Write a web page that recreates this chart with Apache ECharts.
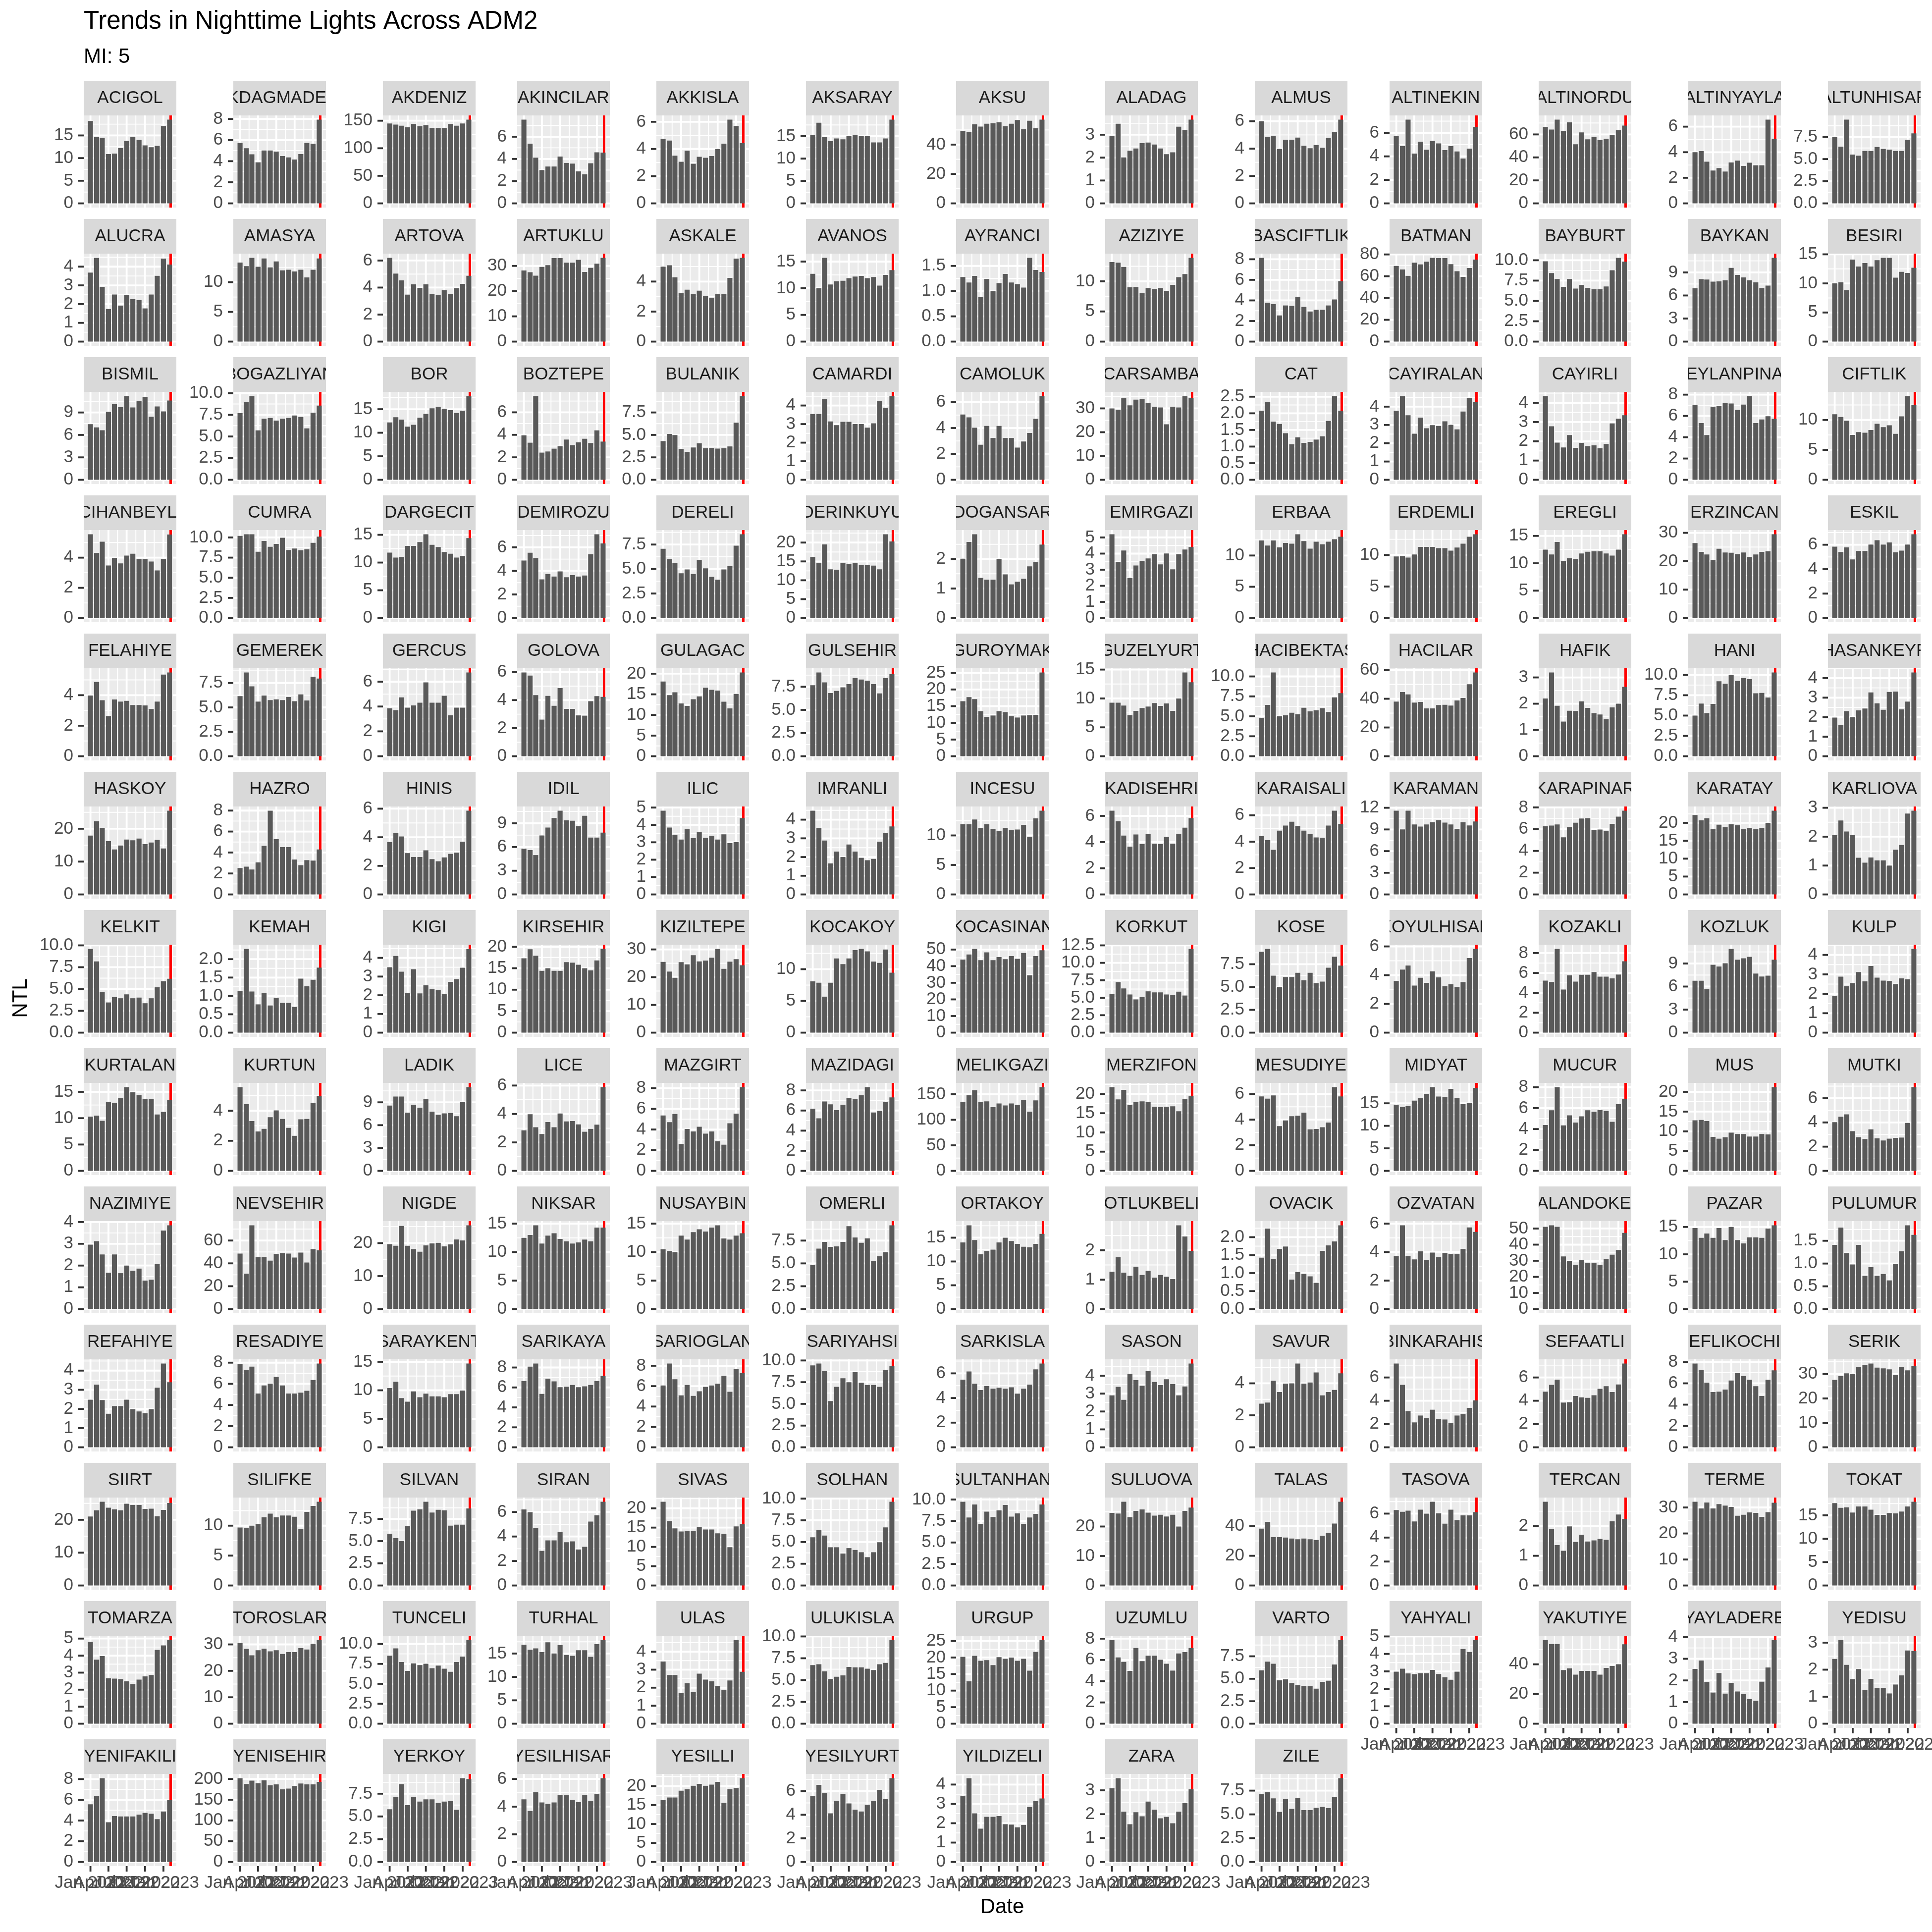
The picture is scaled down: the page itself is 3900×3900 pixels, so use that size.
<!DOCTYPE html>
<html><head><meta charset="utf-8">
<script src="https://cdn.jsdelivr.net/npm/echarts@6/dist/echarts.min.js"></script>
<style>html,body{margin:0;padding:0;background:#ffffff;overflow:hidden;} #chart{width:3900px;height:3900px;}</style>
</head><body><div id="chart"></div>
<script>
// ---------------- DATA ----------------
const chartTitle = 'Trends in Nighttime Lights Across ADM2';
const chartSubtitle = 'MI: 5';
const xAxisTitle = 'Date';
const yAxisTitle = 'NTL';

const months = ['2022-01','2022-02','2022-03','2022-04','2022-05','2022-06','2022-07',
                '2022-08','2022-09','2022-10','2022-11','2022-12','2023-01','2023-02'];
const xTickMonths = ['2022-01','2022-04','2022-07','2022-10','2023-01'];
const xTickLabels = ['Jan 2022','Apr 2022','Jul 2022','Oct 2022','Jan 2023'];
const eventDate = '2023-02-06';

const districts = [
 'ACIGOL','AKDAGMADENI','AKDENIZ','AKINCILAR','AKKISLA','AKSARAY','AKSU','ALADAG','ALMUS','ALTINEKIN','ALTINORDU','ALTINYAYLA','ALTUNHISAR',
 'ALUCRA','AMASYA','ARTOVA','ARTUKLU','ASKALE','AVANOS','AYRANCI','AZIZIYE','BASCIFTLIK','BATMAN','BAYBURT','BAYKAN','BESIRI',
 'BISMIL','BOGAZLIYAN','BOR','BOZTEPE','BULANIK','CAMARDI','CAMOLUK','CARSAMBA','CAT','CAYIRALAN','CAYIRLI','CEYLANPINAR','CIFTLIK',
 'CIHANBEYLI','CUMRA','DARGECIT','DEMIROZU','DERELI','DERINKUYU','DOGANSAR','EMIRGAZI','ERBAA','ERDEMLI','EREGLI','ERZINCAN','ESKIL',
 'FELAHIYE','GEMEREK','GERCUS','GOLOVA','GULAGAC','GULSEHIR','GUROYMAK','GUZELYURT','HACIBEKTAS','HACILAR','HAFIK','HANI','HASANKEYF',
 'HASKOY','HAZRO','HINIS','IDIL','ILIC','IMRANLI','INCESU','KADISEHRI','KARAISALI','KARAMAN','KARAPINAR','KARATAY','KARLIOVA',
 'KELKIT','KEMAH','KIGI','KIRSEHIR','KIZILTEPE','KOCAKOY','KOCASINAN','KORKUT','KOSE','KOYULHISAR','KOZAKLI','KOZLUK','KULP',
 'KURTALAN','KURTUN','LADIK','LICE','MAZGIRT','MAZIDAGI','MELIKGAZI','MERZIFON','MESUDIYE','MIDYAT','MUCUR','MUS','MUTKI',
 'NAZIMIYE','NEVSEHIR','NIGDE','NIKSAR','NUSAYBIN','OMERLI','ORTAKOY','OTLUKBELI','OVACIK','OZVATAN','PALANDOKEN','PAZAR','PULUMUR',
 'REFAHIYE','RESADIYE','SARAYKENT','SARIKAYA','SARIOGLAN','SARIYAHSI','SARKISLA','SASON','SAVUR','SEBINKARAHISAR','SEFAATLI','SEREFLIKOCHISAR','SERIK',
 'SIIRT','SILIFKE','SILVAN','SIRAN','SIVAS','SOLHAN','SULTANHANI','SULUOVA','TALAS','TASOVA','TERCAN','TERME','TOKAT',
 'TOMARZA','TOROSLAR','TUNCELI','TURHAL','ULAS','ULUKISLA','URGUP','UZUMLU','VARTO','YAHYALI','YAKUTIYE','YAYLADERE','YEDISU',
 'YENIFAKILI','YENISEHIR','YERKOY','YESILHISAR','YESILLI','YESILYURT','YILDIZELI','ZARA','ZILE'
];

// monthly NTL values (Jan 2022 .. Feb 2023), one list per district, same order as districts
const ntl = [
 [18.2,14.6,14.5,10.9,11.0,12.2,13.8,14.7,14.0,12.8,12.4,12.7,17.1,18.5],
 [5.73,5.23,4.65,3.89,5.02,5.02,4.91,4.49,4.36,4.16,4.68,5.73,5.65,7.94],
 [145,143,141,138,144,140,142,137,137,137,144,141,145,152],
 [7.54,5.37,4.12,3.0,3.32,3.32,4.22,3.64,3.58,2.88,2.62,3.61,4.6,4.57],
 [4.75,4.62,3.51,3.06,3.87,2.91,3.43,3.35,3.48,4.0,4.39,6.16,5.69,4.44],
 [15.2,18.0,14.8,13.9,14.5,14.3,15.0,15.3,15.0,15.0,13.6,13.6,14.5,18.7],
 [49.4,48.7,53.8,52.3,54.2,54.5,55.2,52.5,54.2,56.7,50.4,56.2,51.1,57.0],
 [2.95,3.48,2.01,2.3,2.4,2.63,2.66,2.57,2.4,2.15,2.23,3.35,3.21,3.66],
 [6.0,4.86,4.94,3.98,4.65,4.65,4.81,4.21,4.03,4.26,4.06,4.78,5.22,6.12],
 [5.75,4.87,7.13,4.24,5.25,4.57,5.31,5.1,4.54,4.87,4.42,3.82,4.66,6.51],
 [66.5,64.3,72.9,63.1,70.5,51.4,61.8,55.7,57.8,55.1,56.3,59.7,63.7,67.7],
 [4.0,4.09,3.26,2.57,2.76,2.49,3.2,3.34,2.93,3.18,2.98,2.98,6.55,5.06],
 [7.49,6.4,9.45,5.51,5.38,5.91,5.91,6.36,6.15,6.07,5.91,5.91,7.17,7.89],

 [3.68,4.47,2.92,1.74,2.51,1.92,2.49,2.26,2.21,1.77,2.51,3.51,4.43,4.11],
 [13.3,12.7,14.1,12.6,14.0,12.5,13.5,12.0,12.1,11.8,12.1,10.8,12.1,14.0],
 [6.2,5.03,4.53,3.48,4.24,3.98,4.24,3.51,3.43,3.8,3.53,3.95,4.27,4.87],
 [28.2,27.5,26.1,29.6,30.3,33.1,33.1,31.3,31.3,32.4,27.6,29.2,30.9,33.2],
 [4.99,5.08,4.28,3.22,3.46,3.15,3.39,3.04,2.92,3.15,3.15,4.24,5.53,5.58],
 [12.7,10.0,15.7,10.7,11.3,11.4,11.9,12.2,12.3,11.9,12.1,10.5,12.5,13.4],
 [1.28,1.17,1.3,0.88,1.24,1.0,1.16,1.34,1.17,1.14,1.07,1.66,1.42,1.38],
 [13.2,13.1,12.4,9.0,9.06,8.01,8.89,8.71,8.89,8.42,9.42,10.7,11.2,13.9],
 [8.14,3.78,3.64,2.54,3.51,3.47,4.36,3.37,2.92,3.09,3.09,3.51,4.09,5.88],
 [69.5,66.2,60.4,72.4,70.8,73.4,76.9,76.6,76.6,71.1,64.6,59.4,67.5,75.3],
 [9.87,8.43,7.7,6.74,7.7,6.52,6.96,6.61,6.43,6.43,6.78,8.78,10.3,9.83],
 [6.93,8.12,8.07,7.8,7.84,7.98,9.59,8.67,8.35,7.98,7.71,6.97,7.29,10.9],
 [10.0,10.2,8.84,14.1,12.9,13.5,12.9,14.0,14.4,14.4,11.0,12.0,11.8,12.7],

 [7.43,7.0,6.62,9.1,10.1,9.71,11.2,9.67,10.5,11.1,8.43,9.81,9.14,10.6],
 [7.7,8.98,9.67,5.7,7.05,7.13,6.84,7.05,7.13,7.42,7.25,5.94,7.75,8.57],
 [12.2,13.3,12.8,11.3,11.7,13.2,14.0,15.2,15.5,15.1,14.8,14.2,14.7,17.8],
 [3.96,3.3,7.45,2.42,2.52,2.77,2.99,3.58,3.08,3.33,3.65,3.27,4.4,3.4],
 [4.31,5.1,4.98,3.44,3.12,3.6,4.07,3.52,3.56,3.48,3.52,3.72,6.36,9.33],
 [3.54,3.54,4.34,3.14,2.94,3.12,3.12,3.0,3.0,2.81,3.04,4.23,3.88,4.51],
 [5.04,4.82,4.03,2.71,4.16,3.23,4.16,3.23,3.23,2.49,2.96,3.62,4.71,6.47],
 [30.0,29.4,34.3,31.3,33.7,33.9,32.2,30.7,30.4,23.3,30.7,30.4,35.2,34.3],
 [2.08,2.34,1.75,1.68,1.4,1.07,1.28,1.11,1.14,1.21,1.31,1.77,2.52,2.08],
 [3.77,4.58,3.53,2.52,3.4,2.82,2.99,2.95,3.2,3.01,2.76,3.73,4.47,4.27],
 [4.35,2.78,1.93,1.68,2.32,1.66,1.92,1.75,1.79,1.64,1.86,2.93,3.17,3.35],
 [7.03,5.33,4.2,6.87,6.93,7.2,7.17,6.57,7.07,7.87,5.33,5.67,5.97,5.73],
 [10.95,10.5,9.88,7.5,7.98,7.86,8.33,9.35,8.81,9.11,7.68,10.6,14.0,12.5],

 [5.55,4.31,5.06,3.48,3.98,3.62,4.14,4.26,3.91,3.91,3.74,3.15,3.91,5.53],
 [10.2,10.4,10.4,8.23,9.56,8.85,9.2,9.96,8.45,8.63,8.41,8.54,9.34,10.1],
 [11.8,10.9,11.0,13.0,13.0,13.7,15.1,13.2,12.8,11.9,11.6,10.9,11.2,14.4],
 [4.88,5.54,5.09,3.28,3.73,3.52,3.95,3.46,3.64,3.52,3.61,5.42,7.11,6.33],
 [7.07,6.01,5.62,4.57,4.96,4.49,5.94,5.07,4.2,3.91,4.96,5.29,7.39,8.55],
 [16.2,14.6,19.5,12.9,12.8,14.5,14.3,14.6,14.0,14.0,13.9,12.9,22.2,20.3],
 [2.01,2.58,2.84,1.36,1.3,1.3,2.0,1.48,1.14,1.23,1.33,1.75,1.9,2.49],
 [5.2,3.48,4.19,2.49,3.26,3.55,3.7,3.96,3.33,4.01,3.02,3.96,4.25,4.41],
 [12.4,11.6,12.4,11.3,12.0,11.9,13.4,12.3,11.1,12.2,11.8,12.2,12.6,13.0],
 [9.77,9.83,9.6,10.1,11.3,11.3,11.3,11.1,11.1,10.7,11.2,11.8,12.9,13.3],
 [12.5,11.6,13.9,10.4,10.9,10.8,11.8,12.1,12.2,12.2,11.8,11.4,12.5,15.3],
 [26.4,23.3,22.4,20.5,24.4,23.1,23.0,22.5,23.1,21.5,22.4,23.3,23.5,29.5],
 [5.84,5.41,5.78,4.8,5.49,5.49,6.02,6.37,6.02,6.19,5.38,5.52,6.02,6.86],

 [3.98,4.86,3.67,2.63,3.72,3.58,3.63,3.35,3.35,3.33,3.09,3.58,5.35,5.49],
 [6.15,8.58,7.16,5.6,6.22,5.75,5.82,5.75,6.07,5.64,6.33,5.71,8.15,7.96],
 [3.86,3.71,4.74,3.91,4.09,4.31,5.94,4.31,4.31,4.86,3.29,3.91,3.91,6.74],
 [5.97,5.75,4.35,2.61,4.3,3.59,4.86,3.37,3.37,2.91,2.89,3.92,4.28,4.23],
 [18.1,14.8,15.5,12.8,12.2,13.8,14.5,16.6,16.1,15.9,13.2,11.6,15.1,20.3],
 [7.66,9.04,7.97,6.82,7.05,7.43,7.78,8.43,8.28,8.16,7.78,6.78,8.43,8.85],
 [16.5,17.7,17.1,13.5,11.8,12.2,13.5,13.2,12.0,11.6,12.2,12.3,12.4,25.1],
 [9.26,9.26,8.77,7.12,7.85,8.34,8.59,9.2,8.71,9.14,7.85,10.0,14.5,12.8],
 [4.82,6.43,10.5,5.0,5.13,5.45,5.27,6.07,5.63,5.76,6.03,5.54,7.37,7.9],
 [38.0,44.7,43.0,37.3,37.8,33.3,33.3,35.6,35.8,35.3,38.8,40.5,50.1,58.3],
 [2.2,3.19,1.92,1.32,1.73,1.72,2.09,1.84,1.64,1.59,1.41,1.86,2.0,2.64],
 [5.0,6.48,5.3,6.43,9.22,8.91,10.0,9.26,9.61,9.48,7.74,7.78,7.22,10.3],
 [1.98,1.6,2.31,2.0,2.35,2.44,3.27,2.71,2.38,3.29,3.31,2.4,2.8,4.29],

 [17.9,22.3,20.3,16.2,13.7,14.9,16.7,16.5,17.0,15.3,15.8,16.6,14.0,25.5],
 [2.52,2.65,2.38,3.06,4.63,7.99,5.27,4.52,4.52,3.33,2.79,3.27,3.23,4.29],
 [3.67,4.29,4.06,2.89,2.62,2.62,3.09,2.47,2.32,2.59,2.84,2.92,3.69,5.86],
 [5.79,5.61,4.98,7.47,8.46,9.68,10.6,9.37,9.32,8.64,9.95,7.19,7.19,7.83],
 [4.82,3.85,3.42,3.16,3.75,3.24,3.61,3.26,3.38,3.16,3.46,2.95,3.01,4.39],
 [4.48,3.56,2.88,1.66,2.29,2.0,2.67,2.29,1.96,1.83,1.9,2.82,3.28,3.64],
 [11.9,11.9,12.7,11.3,11.9,11.1,10.8,11.3,10.9,11.0,11.8,9.76,12.9,14.2],
 [6.4,5.59,4.5,3.65,4.58,3.84,4.6,3.87,3.84,4.39,3.87,4.63,5.1,5.83],
 [4.41,4.11,3.38,4.84,5.22,5.51,5.19,4.84,4.57,4.32,4.3,5.22,6.35,5.35],
 [11.6,9.01,11.6,9.7,9.41,9.7,10.0,10.3,9.95,9.7,9.06,10.0,9.56,10.1],
 [6.26,6.33,6.43,5.25,6.2,6.59,6.98,7.02,5.93,5.97,5.84,6.49,7.15,7.7],
 [22.2,20.7,21.3,18.2,19.5,18.8,19.6,19.3,18.2,18.6,18.2,18.6,20.0,23.4],
 [2.05,2.56,2.18,2.05,1.27,1.1,1.28,1.18,1.18,1.0,1.55,1.71,2.8,2.9],

 [9.6,8.17,4.67,3.46,4.07,3.94,4.39,3.94,4.02,3.37,3.94,5.2,5.89,6.18],
 [1.14,2.28,1.12,0.77,1.08,0.74,0.95,0.81,0.81,0.7,1.47,1.26,1.44,1.77],
 [3.5,4.1,3.26,2.13,3.39,2.1,2.53,2.32,2.27,2.08,2.72,2.86,3.47,4.48],
 [17.3,19.4,17.9,14.4,15.0,14.4,14.4,16.4,16.3,15.8,15.0,14.5,16.8,19.5],
 [25.5,22.0,19.8,25.4,24.6,27.9,25.7,26.0,27.0,30.2,23.0,25.6,26.5,24.3],
 [8.09,7.87,5.67,7.87,11.7,10.8,11.7,13.0,13.2,12.8,11.2,11.0,13.1,9.44],
 [44.0,47.0,50.4,43.6,48.3,43.6,45.5,44.2,46.1,44.4,47.9,34.5,46.1,49.6],
 [5.52,7.24,6.33,5.47,4.76,5.11,5.92,5.77,5.77,5.47,5.37,5.87,5.32,12.0],
 [8.87,9.18,6.25,5.0,6.09,6.09,6.56,5.74,6.56,5.43,5.59,7.11,8.32,7.34],
 [3.6,4.39,4.67,3.28,3.82,3.47,4.27,3.85,3.23,3.37,3.18,3.52,5.19,5.83],
 [5.23,5.09,8.42,4.34,5.77,5.13,5.81,5.81,6.09,5.63,5.63,5.45,5.84,7.17],
 [6.76,6.76,5.65,8.84,8.61,9.03,10.9,9.49,9.68,9.86,7.69,7.31,7.41,9.49],
 [1.89,2.88,2.39,2.55,3.12,2.64,3.43,2.83,2.68,2.66,2.5,2.79,2.75,4.31],

 [10.3,10.5,9.5,13.1,12.9,13.8,15.9,14.9,14.4,13.6,13.6,10.7,11.2,13.4],
 [5.57,4.43,3.31,2.62,2.79,3.57,4.02,3.45,2.86,2.33,3.43,3.45,4.52,4.98],
 [8.58,9.76,9.76,7.64,8.68,8.3,9.43,7.78,7.36,7.55,7.59,7.17,9.01,11.0],
 [2.85,3.98,3.07,2.59,3.43,3.07,4.03,3.48,3.5,3.27,2.75,2.95,3.25,5.89],
 [5.36,4.71,5.5,2.6,4.05,3.81,4.26,3.6,3.81,2.87,2.53,4.6,5.54,8.1],
 [6.19,5.23,6.9,6.62,6.05,6.58,7.26,7.15,7.51,8.33,5.8,5.98,6.83,7.3],
 [135,148,158,135,136,125,132,128,132,129,139,116,138,164],
 [21.8,18.6,21.1,17.1,17.9,18.1,17.9,16.7,16.6,16.7,16.8,15.5,18.7,19.4],
 [5.81,5.64,5.89,3.49,3.94,4.27,4.3,4.55,3.24,3.27,3.41,3.77,6.54,5.81],
 [14.7,14.2,14.4,15.6,16.2,17.1,18.6,16.5,16.4,18.2,16.2,14.8,15.1,18.4],
 [4.38,5.79,8.01,4.35,5.31,4.62,5.21,5.79,5.65,5.82,5.72,4.69,6.37,6.85],
 [12.8,12.9,12.6,8.6,8.14,8.51,9.68,9.32,9.32,8.69,8.69,9.32,9.23,21.2],
 [4.02,4.47,4.67,3.28,2.78,2.63,3.43,2.69,2.51,2.66,2.72,2.75,3.96,6.92],

 [2.96,3.12,2.51,1.67,2.51,1.65,2.0,1.76,1.86,1.31,1.35,2.06,3.61,3.85],
 [48.6,31.0,73.3,45.5,45.5,42.4,48.2,49.0,48.6,45.1,49.4,40.8,52.5,51.4],
 [19.7,19.2,25.2,19.2,18.2,17.4,19.3,19.9,20.1,19.0,19.6,21.1,20.8,25.4],
 [12.5,13.0,14.7,11.5,12.9,13.3,12.3,11.9,11.5,11.7,12.2,11.9,14.3,14.3],
 [10.5,10.2,10.0,12.9,12.2,13.5,14.0,13.6,14.3,14.7,12.4,12.2,12.9,13.3],
 [4.8,6.62,7.35,6.81,6.86,7.35,9.07,7.84,7.25,7.75,5.25,5.78,6.23,9.17],
 [14.0,17.6,14.5,11.5,12.2,12.5,14.0,15.0,14.3,13.7,13.1,13.0,13.7,15.8],
 [1.27,1.76,1.24,1.13,1.44,1.16,1.3,1.07,1.16,1.1,1.02,2.85,2.47,1.98],
 [1.43,2.24,1.4,1.67,1.74,0.82,1.03,0.98,0.91,0.73,1.62,1.77,1.88,2.33],
 [3.72,5.88,3.72,3.49,4.05,3.44,3.97,3.64,3.94,3.87,3.87,4.22,5.73,5.42],
 [51.1,52.0,51.1,32.7,30.0,27.5,30.4,28.6,28.8,27.5,31.1,33.8,36.7,47.3],
 [14.8,13.0,13.8,13.0,14.8,12.6,15.0,12.6,12.0,13.1,13.1,13.0,14.7,15.3],
 [1.41,1.79,1.23,0.98,1.41,0.73,0.92,0.73,0.77,0.63,0.99,1.27,1.84,1.63],

 [2.48,3.27,2.46,1.75,2.15,2.15,2.48,1.99,1.87,1.78,1.99,3.11,4.37,3.39],
 [7.88,7.33,7.63,5.08,5.85,6.02,6.65,5.85,5.08,5.08,5.17,5.34,6.36,7.92],
 [10.4,11.5,8.63,8.0,9.8,8.78,9.41,8.94,8.94,8.78,9.33,9.33,9.96,14.7],
 [6.65,8.09,8.4,5.35,6.88,6.61,6.02,6.07,6.25,6.02,6.11,6.25,6.65,7.15],
 [6.07,8.22,6.68,5.1,6.11,5.05,5.49,5.93,6.07,6.24,7.03,5.45,7.69,7.3],
 [9.44,9.65,8.77,5.33,6.97,7.95,7.49,8.67,7.44,7.18,7.18,6.97,8.92,9.33],
 [5.49,6.15,5.16,4.65,4.98,4.76,4.84,4.76,4.87,4.36,4.76,5.09,6.33,6.8],
 [2.9,3.38,2.65,4.1,3.75,3.43,4.25,3.65,3.48,3.8,3.53,2.9,3.4,4.68],
 [2.73,2.8,4.16,3.46,3.98,4.0,5.24,3.98,4.05,4.68,3.25,3.46,3.59,4.63],
 [7.2,5.37,3.11,2.14,2.73,2.52,3.23,2.42,2.39,2.11,2.73,2.86,3.39,4.04],
 [4.78,5.37,5.81,3.85,3.88,4.41,4.29,4.25,4.47,5.03,5.25,4.75,5.4,7.2],
 [7.86,7.25,6.07,5.19,5.22,5.42,6.27,6.98,6.68,6.34,5.73,4.81,6.34,7.22],
 [27.6,29.1,30.3,30.1,32.9,33.8,34.3,32.6,32.3,31.9,29.7,32.9,31.5,33.4],

 [21.0,22.9,25.5,23.7,23.2,22.9,24.9,24.5,24.5,23.3,23.4,21.1,23.0,25.1],
 [9.7,9.62,10.0,10.3,11.4,12.0,11.4,11.7,11.7,11.5,9.4,12.3,13.3,14.0],
 [5.84,5.33,5.03,6.7,8.43,8.58,9.44,8.22,8.53,8.48,6.75,6.85,6.85,8.68],
 [6.21,5.99,4.71,2.83,3.68,3.68,4.38,3.53,3.6,2.94,3.16,5.22,5.74,6.84],
 [21.7,16.7,14.8,14.0,14.2,14.2,15.1,14.5,14.5,13.5,13.4,9.92,15.3,15.9],
 [5.54,6.37,5.75,4.4,4.4,3.68,4.3,4.09,3.83,3.26,3.83,4.97,6.68,9.64],
 [9.74,7.91,9.42,7.17,8.59,7.96,8.74,9.37,8.01,8.38,7.17,7.91,8.32,9.42],
 [24.6,24.4,28.4,23.2,25.3,25.8,24.7,23.7,24.0,23.4,24.0,20.0,25.3,26.4],
 [38.3,42.9,32.5,32.5,32.3,31.6,31.1,31.6,31.1,30.6,33.5,35.4,41.7,56.4],
 [6.3,6.15,6.24,5.34,6.33,6.0,6.99,6.03,5.16,6.33,5.46,5.85,5.85,6.12],
 [2.82,1.9,1.36,1.17,1.99,1.47,1.71,1.48,1.52,1.57,1.54,2.16,2.39,2.24],
 [32.2,29.6,31.9,29.6,31.3,30.7,30.2,26.8,27.2,28.1,27.9,26.4,28.2,31.8],
 [17.6,16.6,16.7,15.6,16.9,16.9,16.2,15.1,15.1,15.5,15.4,15.8,16.9,17.9],

 [4.81,3.76,3.97,2.67,2.65,2.62,2.49,2.33,2.59,2.78,2.86,4.34,4.6,4.92],
 [30.5,28.3,25.9,27.8,28.4,27.4,27.8,26.4,27.1,27.1,28.6,28.1,30.3,31.7],
 [8.53,9.44,7.74,6.61,7.57,7.34,7.51,6.95,7.29,6.89,6.5,7.74,8.42,10.5],
 [16.9,15.8,16.1,15.3,17.4,15.0,16.8,14.7,14.5,15.7,15.7,14.3,17.0,17.9],
 [3.45,2.7,2.7,1.7,2.25,1.75,2.78,2.45,2.35,2.1,1.88,2.4,4.65,2.88],
 [6.72,6.82,6.0,5.13,5.38,5.54,6.51,6.46,6.46,6.31,6.15,6.82,6.97,9.6],
 [20.2,12.8,20.5,19.0,19.2,17.7,20.1,19.6,20.0,19.0,19.6,16.0,21.7,25.3],
 [7.88,6.23,5.81,4.96,7.12,5.89,6.4,6.4,6.02,5.64,5.0,6.61,6.74,7.12],
 [5.94,6.91,6.67,4.82,4.94,4.54,4.3,4.22,4.18,3.9,4.66,4.78,6.59,9.32],
 [2.98,3.15,2.88,2.84,2.9,2.9,3.08,2.85,2.66,2.52,2.98,4.28,4.11,4.8],
 [56.4,53.6,53.6,36.1,37.3,33.0,35.5,35.5,35.5,33.0,37.5,38.9,40.0,53.5],
 [2.53,2.92,1.93,1.44,2.34,1.39,1.89,1.49,1.37,1.14,1.06,1.94,2.6,3.87],
 [2.4,3.1,2.18,1.65,2.02,1.24,1.66,1.33,1.33,1.12,1.45,1.79,2.71,2.69],

 [5.57,6.35,8.09,3.83,4.43,4.39,4.39,4.39,4.57,4.74,4.65,4.13,4.87,6.0],
 [202,188,196,190,197,185,187,175,177,183,189,187,187,193],
 [5.79,7.13,8.56,6.24,7.13,6.63,6.88,6.88,6.49,6.63,6.68,5.74,9.21,9.11],
 [4.53,3.68,5.05,4.3,4.2,4.3,4.85,4.82,4.5,4.33,4.85,4.43,4.92,6.06],
 [16.3,17.0,17.0,18.8,19.2,20.1,20.6,20.1,20.4,21.1,15.6,19.2,19.5,22.1],
 [5.61,6.53,5.84,4.12,5.19,5.76,4.96,4.43,4.27,4.85,5.19,6.11,5.31,7.1],
 [3.4,4.33,2.51,1.72,2.33,2.33,2.37,1.95,1.93,1.79,1.91,2.84,3.14,3.28],
 [3.09,3.51,2.11,1.58,2.08,1.91,2.53,2.19,1.83,1.89,1.62,2.11,2.47,3.04],
 [7.13,7.34,6.68,5.26,6.61,5.58,6.7,5.45,5.45,5.7,5.79,5.65,6.85,8.81]
];

// y-axis tick step (tick labels are multiples of it) per district, same order
const yTickSteps = [
 5,2,50,2,2,5,20,1,2,2,20,2,2.5,
 1,5,2,10,2,5,0.5,5,2,20,2.5,3,5,
 3,2.5,5,2,2.5,1,2,10,0.5,1,1,2,5,
 2,2.5,5,2,2.5,5,1,1,5,5,5,10,2,
 2,2.5,2,2,5,2.5,5,5,2.5,20,1,2.5,1,
 10,2,2,3,1,1,5,2,2,3,2,5,1,
 2.5,0.5,1,5,10,5,10,2.5,2.5,2,2,3,1,
 5,2,3,2,2,2,50,5,2,5,2,5,2,
 1,20,10,5,5,2.5,5,1,0.5,2,10,5,0.5,
 1,2,5,2,2,2.5,2,1,2,2,2,2,10,
 10,5,2.5,2,5,2.5,2.5,10,20,2,1,10,5,
 1,10,2.5,5,1,2.5,5,2,2.5,1,20,1,1,
 2,50,2.5,2,5,2,1,1,2.5
];

// ---------------- LAYOUT ----------------
if (ntl.length !== districts.length || yTickSteps.length !== districts.length) throw new Error('length mismatch ' + ntl.length + ' ' + yTickSteps.length);
ntl.forEach((v, i) => { if (v.length !== months.length) throw new Error('bad length at ' + districts[i]); });

const FONT = "'Liberation Sans', Arial, Helvetica, sans-serif";
const NCOL = 13;
const panelLefts = [169, 471, 773, 1044, 1325, 1627, 1930, 2231, 2533, 2805, 3106, 3408, 3690];
const PANEL_W = 187, STRIP_TOP0 = 163, ROW_PITCH = 279, STRIP_H = 70, PANEL_H = 186;
const MAJOR_W = 3.8, MINOR_W = 1.9;
const TICK_LEN = 11, TICK_COLOR = '#333333', LABEL_COLOR = '#4D4D4D', LABEL_SIZE = 35;
const Y_LABEL_GAP = 21, X_LABEL_GAP = 17;

const toTs = s => Date.UTC(+s.slice(0, 4), +s.slice(5, 7) - 1, s.length > 7 ? +s.slice(8, 10) : 1);
const monthTs = months.map(toTs);
let res = Infinity;
for (let i = 1; i < monthTs.length; i++) res = Math.min(res, monthTs[i] - monthTs[i - 1]);
const barSpan = 0.9 * res;
const lo = monthTs[0] - barSpan / 2, hi = monthTs[monthTs.length - 1] + barSpan / 2;
const span = hi - lo;
const xMin = lo - 0.05 * span, xMax = hi + 0.05 * span;
const eventTs = toTs(eventDate);
const barPx = PANEL_W * barSpan / (xMax - xMin);
const xMajor = xTickMonths.map(toTs);
const xMinor = (() => {
  const b = xMajor.slice(); const bd = b[1] - b[0];
  if (xMin < b[0]) b.unshift(b[0] - bd);
  if (xMax > b[b.length - 1]) b.push(b[b.length - 1] + bd);
  const out = [];
  for (let i = 0; i < b.length - 1; i++) { const m = (b[i] + b[i + 1]) / 2; if (m > xMin && m < xMax) out.push(m); }
  return out;
})();
const xMid = (xMin + xMax) / 2;

function decimalsOf(v) { for (let d = 0; d < 6; d++) { if (Math.abs(Math.round(v * Math.pow(10, d)) - v * Math.pow(10, d)) < 1e-6) return d; } return 6; }

const nPanels = districts.length;
const nRows = Math.ceil(nPanels / NCOL);
const grids = [], xAxes = [], yAxes = [], series = [];

districts.forEach((name, k) => {
  const row = Math.floor(k / NCOL), col = k % NCOL;
  const vals = ntl[k];
  const M = Math.max.apply(null, vals);
  const yMin = -0.05 * M, yMax = 1.05 * M;
  const step = yTickSteps[k];
  const majors = [];
  for (let i = 0; i * step <= yMax + 1e-9; i++) majors.push(+(i * step).toFixed(6));
  const b = majors.slice();
  if (yMin < b[0]) b.unshift(b[0] - step);
  if (yMax > b[b.length - 1]) b.push(b[b.length - 1] + step);
  const minors = [];
  for (let i = 0; i < b.length - 1; i++) { const m = (b[i] + b[i + 1]) / 2; if (m > yMin && m < yMax) minors.push(m); }
  const dec = Math.max.apply(null, majors.map(decimalsOf));

  const stripTop = STRIP_TOP0 + row * ROW_PITCH;
  const panelTop = stripTop + STRIP_H;
  const left = panelLefts[col];
  const lastRowForCol = (col < nPanels - (nRows - 1) * NCOL) ? nRows - 1 : nRows - 2;
  const isBottom = row === lastRowForCol;

  const gMain = grids.length;
  grids.push({ left: left, top: panelTop, width: PANEL_W, height: PANEL_H, show: true,
    backgroundColor: '#EBEBEB', borderWidth: 0, containLabel: false, outerBoundsMode: 'none' });
  const gStrip = grids.length;
  grids.push({ left: left, top: stripTop, width: PANEL_W, height: STRIP_H, show: true,
    backgroundColor: '#D9D9D9', borderWidth: 0, containLabel: false, outerBoundsMode: 'none' });

  xAxes.push({ gridIndex: gMain, type: 'value', min: xMin, max: xMax,
    axisLine: { show: false, onZero: false }, splitLine: { show: false }, axisTick: { show: false }, axisLabel: { show: false } });
  xAxes.push({ gridIndex: gStrip, type: 'value', min: 0, max: 1, show: false });
  yAxes.push({ gridIndex: gMain, type: 'value', min: yMin, max: yMax,
    axisLine: { show: false, onZero: false }, splitLine: { show: false }, axisTick: { show: false }, axisLabel: { show: false } });
  yAxes.push({ gridIndex: gStrip, type: 'value', min: 0, max: 1, show: false });

  // panel grid lines and event line (under the bars)
  const lines = [];
  minors.forEach(v => lines.push([xMid, v, 0]));
  xMinor.forEach(v => lines.push([v, 0, 2]));
  majors.forEach(v => lines.push([xMid, v, 1]));
  xMajor.forEach(v => lines.push([v, 0, 3]));
  lines.push([eventTs, 0, 4]);

  series.push({ type: 'custom', xAxisIndex: gMain, yAxisIndex: gMain, z: 1, clip: true, silent: true,
    data: lines,
    renderItem: (params, api) => {
      const cs = params.coordSys;
      const kind = api.value(2);
      const pt = api.coord([api.value(0), api.value(1)]);
      if (kind === 0 || kind === 1) {
        return { type: 'line', shape: { x1: cs.x, y1: pt[1], x2: cs.x + cs.width, y2: pt[1] },
          style: { stroke: '#FFFFFF', lineWidth: kind === 1 ? MAJOR_W : MINOR_W } };
      }
      return { type: 'line', shape: { x1: pt[0], y1: cs.y, x2: pt[0], y2: cs.y + cs.height },
        style: { stroke: kind === 4 ? '#FF0000' : '#FFFFFF', lineWidth: kind === 4 ? 5 : (kind === 3 ? MAJOR_W : MINOR_W) } };
    } });

  series.push({ type: 'bar', name: name, xAxisIndex: gMain, yAxisIndex: gMain, z: 2, silent: true,
    barWidth: barPx, itemStyle: { color: '#595959' },
    data: vals.map((v, i) => [monthTs[i], v]) });

  // axis ticks and tick labels (every one drawn, overlapping like the original)
  const decor = [], decorText = [];
  majors.forEach(v => { decor.push([xMid, v, 0]); decorText.push((+v).toFixed(dec)); });
  if (isBottom) xMajor.forEach((v, i) => { decor.push([v, 0, 1]); decorText.push(xTickLabels[i]); });
  series.push({ type: 'custom', xAxisIndex: gMain, yAxisIndex: gMain, z: 4, clip: false, silent: true,
    data: decor,
    renderItem: (params, api) => {
      const cs = params.coordSys;
      const kind = api.value(2);
      const pt = api.coord([api.value(0), api.value(1)]);
      const txt = decorText[params.dataIndex];
      if (kind === 0) {
        return { type: 'group', children: [
          { type: 'line', shape: { x1: cs.x - TICK_LEN, y1: pt[1], x2: cs.x, y2: pt[1] },
            style: { stroke: TICK_COLOR, lineWidth: MAJOR_W } },
          { type: 'text', x: cs.x - Y_LABEL_GAP, y: pt[1],
            style: { text: txt, fill: LABEL_COLOR, fontSize: LABEL_SIZE, fontFamily: FONT,
              align: 'right', verticalAlign: 'middle', textAlign: 'right', textVerticalAlign: 'middle' } } ] };
      }
      const yb = cs.y + cs.height;
      return { type: 'group', children: [
        { type: 'line', shape: { x1: pt[0], y1: yb, x2: pt[0], y2: yb + TICK_LEN },
          style: { stroke: TICK_COLOR, lineWidth: MAJOR_W } },
        { type: 'text', x: pt[0], y: yb + X_LABEL_GAP,
          style: { text: txt, fill: LABEL_COLOR, fontSize: LABEL_SIZE, fontFamily: FONT,
            align: 'center', verticalAlign: 'top', textAlign: 'center', textVerticalAlign: 'top' } } ] };
    } });

  // strip label, clipped to the strip box
  series.push({ type: 'custom', xAxisIndex: gStrip, yAxisIndex: gStrip, z: 3, clip: true, silent: true,
    data: [[0.5, 0.5]],
    renderItem: (params, api) => {
      const cs = params.coordSys;
      return { type: 'text', x: cs.x + cs.width / 2, y: cs.y + cs.height / 2,
        style: { text: name, fill: '#1A1A1A', fontSize: 35, fontFamily: FONT,
          align: 'center', verticalAlign: 'middle', textAlign: 'center', textVerticalAlign: 'middle' } };
    } });
});

const chart = echarts.init(document.getElementById('chart'), null, { renderer: 'canvas', width: 3900, height: 3900 });
chart.setOption({
  animation: false,
  backgroundColor: '#FFFFFF',
  title: [
    { text: chartTitle, left: 169, top: 18, padding: 0,
      textStyle: { fontSize: 51, fontWeight: 'normal', color: '#000000', fontFamily: FONT } },
    { text: chartSubtitle, left: 169, top: 94, padding: 0,
      textStyle: { fontSize: 42, fontWeight: 'normal', color: '#000000', fontFamily: FONT } }
  ],
  graphic: [
    { type: 'text', x: 42, y: 2015, rotation: Math.PI / 2, silent: true,
      style: { text: yAxisTitle, fontSize: 42, fontFamily: FONT, fill: '#000000',
        align: 'center', verticalAlign: 'middle', textAlign: 'center', textVerticalAlign: 'middle' } },
    { type: 'text', x: 2023, y: 3850, silent: true,
      style: { text: xAxisTitle, fontSize: 42, fontFamily: FONT, fill: '#000000',
        align: 'center', verticalAlign: 'middle', textAlign: 'center', textVerticalAlign: 'middle' } }
  ],
  grid: grids, xAxis: xAxes, yAxis: yAxes, series: series
});
</script>
</body></html>
